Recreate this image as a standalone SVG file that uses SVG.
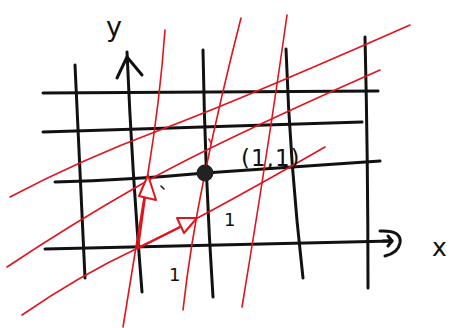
<svg xmlns="http://www.w3.org/2000/svg" width="455" height="328" viewBox="0 0 455 328">
<style>
.k{fill:none;stroke:#111;stroke-width:3;stroke-linecap:round;stroke-linejoin:round}
.r{fill:none;stroke:#e0141e;stroke-width:1.6;stroke-linecap:round;stroke-linejoin:round}
.rh{fill:#fff;stroke:#e0141e;stroke-width:2;stroke-linejoin:round}
.t{font-family:"DejaVu Sans","Liberation Sans",sans-serif;fill:#111}
</style>
<rect width="455" height="328" fill="#fff"/>
<g id="black-grid">
<path class="k" d="M43,93 L378,91"/>
<path class="k" d="M43,132 L362,122"/>
<path class="k" d="M55,182 Q130,180 205,173 L380,161"/>
<path class="k" d="M45,249 Q200,246 392,241"/>
<path class="k" d="M75,65 Q80,170 85,278"/>
<path class="k" d="M127,52 Q132,170 142,292"/>
<path class="k" d="M203,50 Q205,175 213,297"/>
<path class="k" d="M286,49 Q290,165 303,278"/>
<path class="k" d="M365,37 Q368,160 368,288"/>
<path class="k" d="M117,78 L127,57 L142,75"/>
<path class="k" d="M380,231 Q402,230 400,243 Q398,253 385,256 M383,241 L392,241 M388,236 L392,241 L388,246"/>
</g>
<g id="red-lines">
<path class="r" d="M10,197 Q80,160 160,130 T410,25"/>
<path class="r" d="M7,267 Q70,225 140,185 T380,70"/>
<path class="r" d="M22,315 Q80,275 138,248 T325,147"/>
<path class="r" d="M165,30 Q160,100 148,173 T123,327"/>
<path class="r" d="M241,18 Q220,100 205,173 T183,310"/>
<path class="r" d="M287,15 Q268,150 242,307"/>
<path class="r" d="M209,139 L211,143"/>
</g>
<g id="vectors">
<path class="r" d="M138,248 L180,227" style="stroke-width:2.2"/>
<polygon class="rh" points="197,218 177,218 184,233"/>
<path class="r" d="M138,248 L145,197" style="stroke-width:2.2"/>
<polygon class="rh" points="148,175 139,196 156,200"/>
</g>
<g id="origin-point">
<circle cx="205" cy="173" r="8.5" fill="#222"/>
</g>
<g id="labels">
<text class="t" x="106" y="36" font-size="27">y</text>
<text class="t" x="432" y="256" font-size="25">x</text>
<text class="t" x="241" y="166" font-size="23" letter-spacing="1">(1,1)</text>
<text class="t" x="224" y="226" font-size="18">1</text>
<text class="t" x="169" y="281" font-size="18">1</text>
<path class="k" d="M161,186 L164,189" style="stroke-width:1.5"/>
</g>
</svg>
